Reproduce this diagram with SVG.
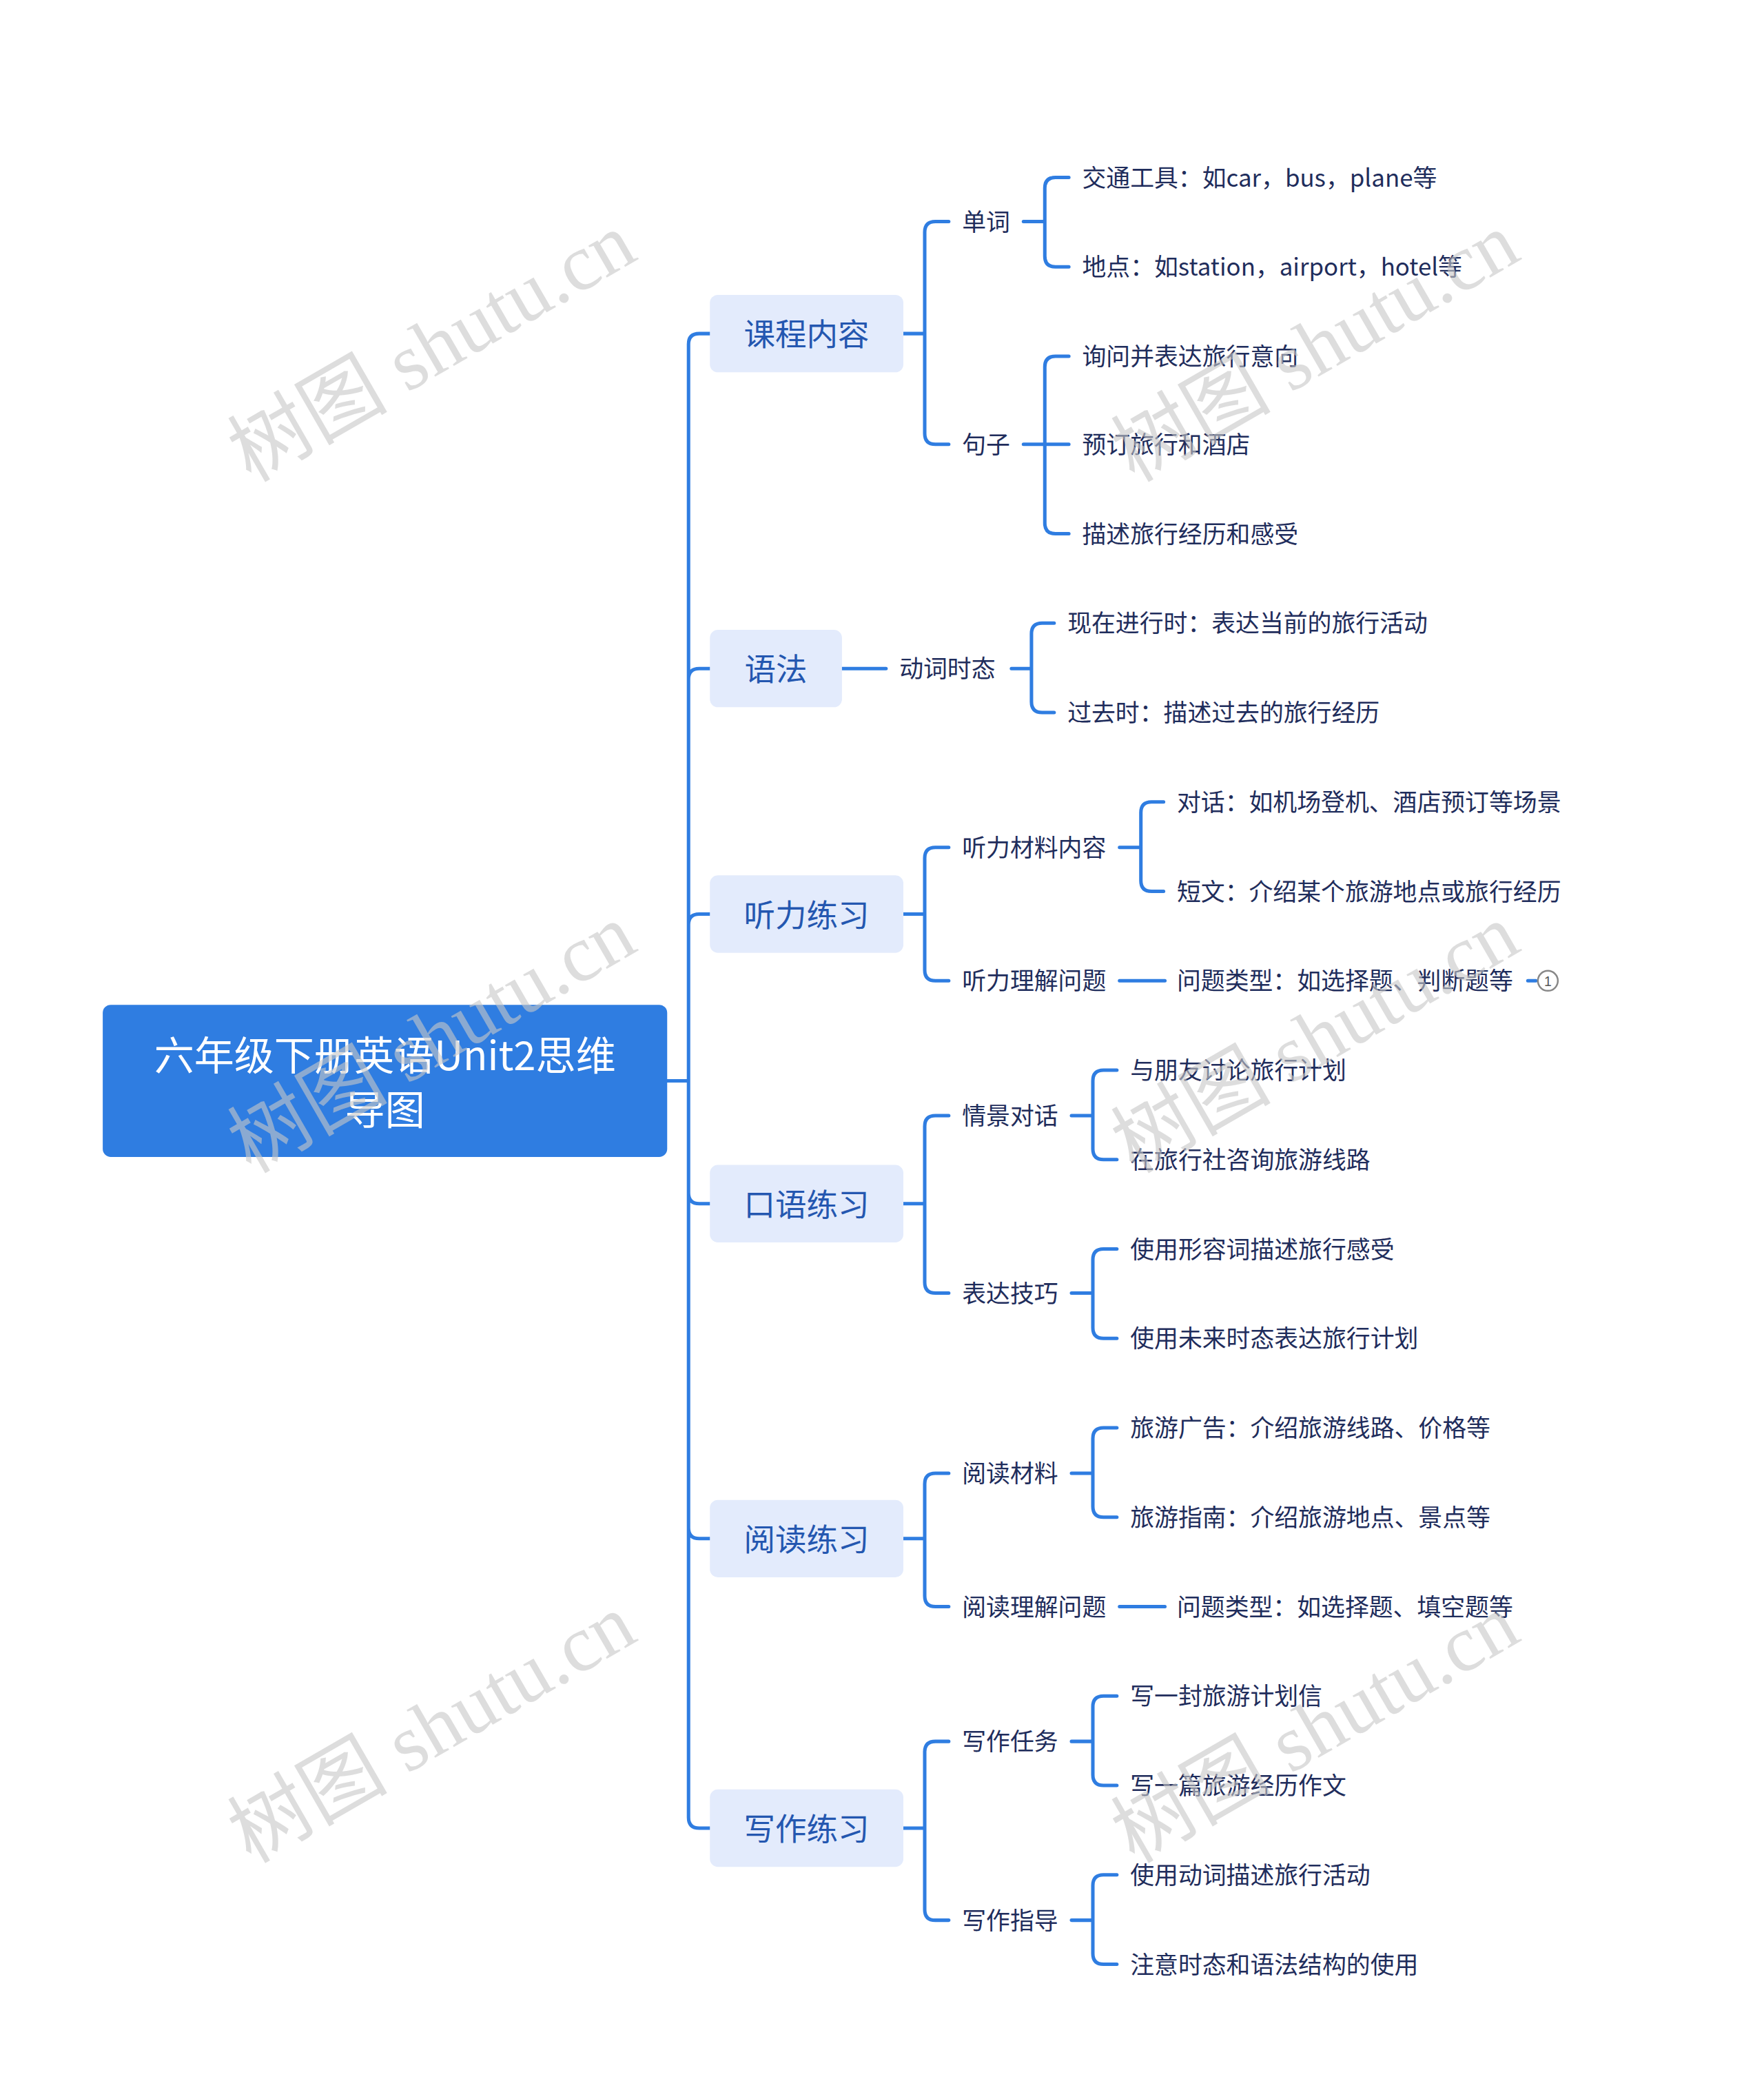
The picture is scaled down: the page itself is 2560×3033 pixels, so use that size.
<svg xmlns="http://www.w3.org/2000/svg" width="2560" height="3033" viewBox="0 0 2560 3033">
<style>
.c{fill:none;stroke:#2f7de1;stroke-width:2.6;stroke-linecap:round}
.l1{font-family:"Noto Sans CJK SC",sans-serif;font-size:23.5px;fill:#2457b0;text-anchor:middle;dominant-baseline:central}
.t{font-family:"Noto Sans CJK SC",sans-serif;font-size:18px;fill:#1f2d5c;dominant-baseline:central}
.b{fill:#e3ebfc}
.wm{font-family:"Liberation Serif","Noto Sans CJK SC",serif;font-size:60px;fill:#c8c8c8;opacity:0.6}
</style>
<rect width="2560" height="3033" fill="#fff"/>
<g transform="scale(1.9365)">
<g id="connectors">
<path class="c" d="M500 810 H516 M516 810 V258 Q516 250 524 250 H532 M516 810 V509 Q516 501 524 501 H532 M516 810 V693 Q516 685 524 685 H532 M516 810 V894 Q516 902 524 902 H532 M516 810 V1145 Q516 1153 524 1153 H532 M516 810 V1362 Q516 1370 524 1370 H532"/>
<path class="c" d="M677 250 H693 M693 250 V174 Q693 166 701 166 H711 M693 250 V325 Q693 333 701 333 H711"/>
<path class="c" d="M767 166 H783 M783 166 V141 Q783 133 791 133 H801 M783 166 V192 Q783 200 791 200 H801"/>
<path class="c" d="M767 333 H801 M783 333 V275 Q783 267 791 267 H801 M783 333 V392 Q783 400 791 400 H801"/>
<path class="c" d="M631 501 H664 M758 501 H773 M773 501 V475 Q773 467 781 467 H790 M773 501 V526 Q773 534 781 534 H790"/>
<path class="c" d="M677 685 H693 M693 685 V643 Q693 635 701 635 H711 M693 685 V727 Q693 735 701 735 H711"/>
<path class="c" d="M839 635 H855 M855 635 V609 Q855 601 863 601 H872 M855 635 V660 Q855 668 863 668 H872 M839 735 H873 M1145 735 H1151"/>
<path class="c" d="M677 902 H693 M693 902 V844 Q693 836 701 836 H711 M693 902 V961 Q693 969 701 969 H711"/>
<path class="c" d="M803 836 H819 M819 836 V810 Q819 802 827 802 H837 M819 836 V861 Q819 869 827 869 H837"/>
<path class="c" d="M803 969 H819 M819 969 V944 Q819 936 827 936 H837 M819 969 V995 Q819 1003 827 1003 H837"/>
<path class="c" d="M677 1153 H693 M693 1153 V1112 Q693 1104 701 1104 H711 M693 1153 V1196 Q693 1204 701 1204 H711"/>
<path class="c" d="M803 1104 H819 M819 1104 V1078 Q819 1070 827 1070 H837 M819 1104 V1129 Q819 1137 827 1137 H837 M839 1204 H873"/>
<path class="c" d="M677 1370 H693 M693 1370 V1313 Q693 1305 701 1305 H711 M693 1370 V1431 Q693 1439 701 1439 H711"/>
<path class="c" d="M803 1305 H819 M819 1305 V1279 Q819 1271 827 1271 H837 M819 1305 V1330 Q819 1338 827 1338 H837"/>
<path class="c" d="M803 1439 H819 M819 1439 V1413 Q819 1405 827 1405 H837 M819 1439 V1464 Q819 1472 827 1472 H837"/>
</g>
<g id="root"><rect x="77" y="753" width="423" height="114" rx="6" fill="#2f7de1"/>
<text x="288.5" y="789" font-family="Noto Sans CJK SC,sans-serif" font-size="30" fill="#fff" text-anchor="middle" dominant-baseline="central">六年级下册英语Unit2思维</text>
<text x="288.5" y="830" font-family="Noto Sans CJK SC,sans-serif" font-size="30" fill="#fff" text-anchor="middle" dominant-baseline="central">导图</text></g>
<g id="n1"><rect class="b" x="532" y="221" width="145" height="58" rx="6"/><text class="l1" x="604.5" y="249">课程内容</text></g>
<g id="n2"><rect class="b" x="532" y="472" width="99" height="58" rx="6"/><text class="l1" x="581.5" y="500">语法</text></g>
<g id="n3"><rect class="b" x="532" y="656" width="145" height="58" rx="6"/><text class="l1" x="604.5" y="684">听力练习</text></g>
<g id="n4"><rect class="b" x="532" y="873" width="145" height="58" rx="6"/><text class="l1" x="604.5" y="901">口语练习</text></g>
<g id="n5"><rect class="b" x="532" y="1124" width="145" height="58" rx="6"/><text class="l1" x="604.5" y="1152">阅读练习</text></g>
<g id="n6"><rect class="b" x="532" y="1341" width="145" height="58" rx="6"/><text class="l1" x="604.5" y="1369">写作练习</text></g>
<g id="leaves">
<text class="t" x="721" y="165">单词</text>
<text class="t" x="811" y="132">交通工具：如car，bus，plane等</text>
<text class="t" x="811" y="199">地点：如station，airport，hotel等</text>
<text class="t" x="721" y="332">句子</text>
<text class="t" x="811" y="266">询问并表达旅行意向</text>
<text class="t" x="811" y="332">预订旅行和酒店</text>
<text class="t" x="811" y="399">描述旅行经历和感受</text>
<text class="t" x="674" y="500">动词时态</text>
<text class="t" x="800" y="466">现在进行时：表达当前的旅行活动</text>
<text class="t" x="800" y="533">过去时：描述过去的旅行经历</text>
<text class="t" x="721" y="634">听力材料内容</text>
<text class="t" x="882" y="600">对话：如机场登机、酒店预订等场景</text>
<text class="t" x="882" y="667">短文：介绍某个旅游地点或旅行经历</text>
<text class="t" x="721" y="734">听力理解问题</text>
<text class="t" x="882" y="734">问题类型：如选择题、判断题等</text>
<circle cx="1160" cy="735" r="7.5" fill="#fff" stroke="#888" stroke-width="1.3"/>
<text x="1160" y="735.5" font-family="Liberation Sans,sans-serif" font-size="10" fill="#555" text-anchor="middle" dominant-baseline="central">1</text>
<text class="t" x="721" y="835">情景对话</text>
<text class="t" x="847" y="801">与朋友讨论旅行计划</text>
<text class="t" x="847" y="868">在旅行社咨询旅游线路</text>
<text class="t" x="721" y="968">表达技巧</text>
<text class="t" x="847" y="935">使用形容词描述旅行感受</text>
<text class="t" x="847" y="1002">使用未来时态表达旅行计划</text>
<text class="t" x="721" y="1103">阅读材料</text>
<text class="t" x="847" y="1069">旅游广告：介绍旅游线路、价格等</text>
<text class="t" x="847" y="1136">旅游指南：介绍旅游地点、景点等</text>
<text class="t" x="721" y="1203">阅读理解问题</text>
<text class="t" x="882" y="1203">问题类型：如选择题、填空题等</text>
<text class="t" x="721" y="1304">写作任务</text>
<text class="t" x="847" y="1270">写一封旅游计划信</text>
<text class="t" x="847" y="1337">写一篇旅游经历作文</text>
<text class="t" x="721" y="1438">写作指导</text>
<text class="t" x="847" y="1404">使用动词描述旅行活动</text>
<text class="t" x="847" y="1471">注意时态和语法结构的使用</text>
</g>
<g id="watermarks">
<text class="wm" transform="translate(188 362) rotate(-30)">树图 shutu.cn</text>
<text class="wm" transform="translate(850 362) rotate(-30)">树图 shutu.cn</text>
<text class="wm" transform="translate(188 880) rotate(-30)">树图 shutu.cn</text>
<text class="wm" transform="translate(850 880) rotate(-30)">树图 shutu.cn</text>
<text class="wm" transform="translate(188 1397) rotate(-30)">树图 shutu.cn</text>
<text class="wm" transform="translate(850 1397) rotate(-30)">树图 shutu.cn</text>
</g>
</g>
</svg>
